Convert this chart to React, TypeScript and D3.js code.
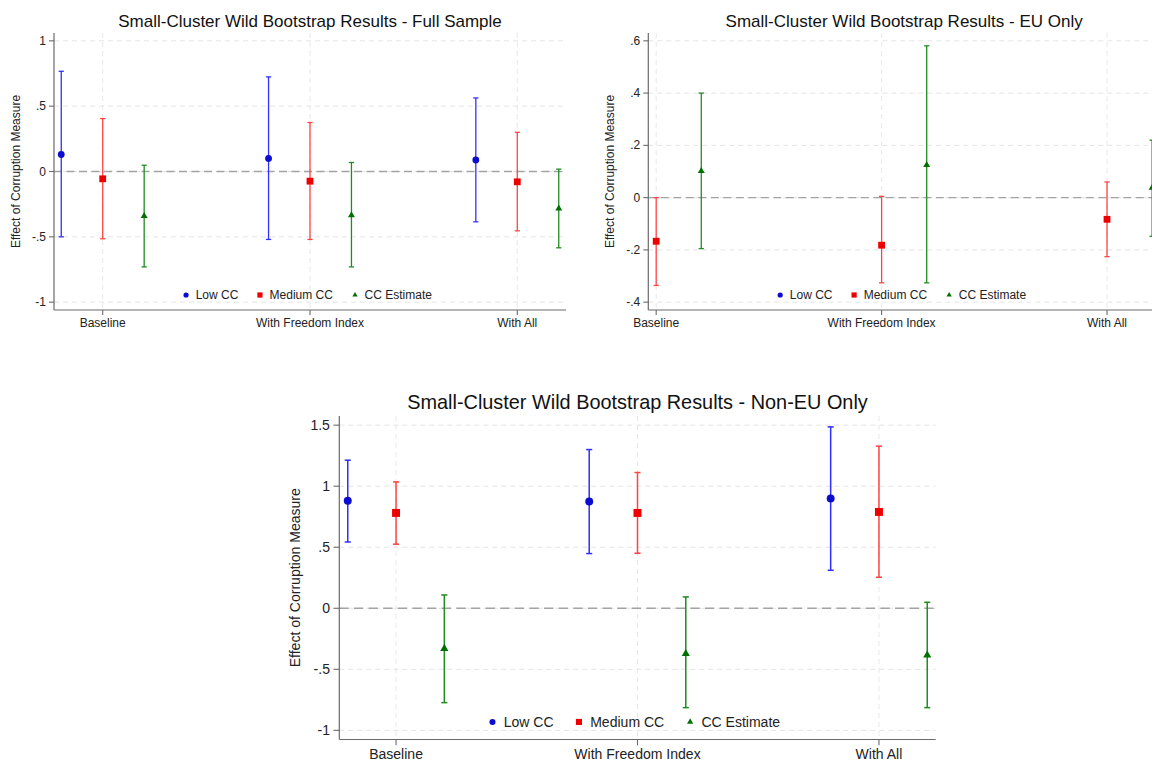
import React from "react";
import * as d3 from "d3";

const categories = ["Baseline", "With Freedom Index", "With All"];
const seriesNames = ["Low CC", "Medium CC", "CC Estimate"];

// Full sample
const fullLowEst = [0.13, 0.1, 0.088];
const fullLowLo = [-0.5, -0.52, -0.385];
const fullLowHi = [0.767, 0.724, 0.563];
const fullMedEst = [-0.056, -0.074, -0.079];
const fullMedLo = [-0.515, -0.52, -0.454];
const fullMedHi = [0.405, 0.375, 0.3];
const fullCcEst = [-0.34, -0.334, -0.283];
const fullCcLo = [-0.73, -0.73, -0.584];
const fullCcHi = [0.048, 0.069, 0.018];
const fullTicks = [-1, -0.5, 0, 0.5, 1];
const fullTickLabels = ["-1", "-.5", "0", ".5", "1"];

// EU only (no Low CC estimates)
const euMedEst = [-0.167, -0.182, -0.083];
const euMedLo = [-0.336, -0.326, -0.226];
const euMedHi = [0.0, 0.005, 0.06];
const euCcEst = [0.102, 0.125, 0.038];
const euCcLo = [-0.195, -0.326, -0.148];
const euCcHi = [0.4, 0.581, 0.22];
const euTicks = [-0.4, -0.2, 0, 0.2, 0.4, 0.6];
const euTickLabels = ["-.4", "-.2", "0", ".2", ".4", ".6"];

// Non-EU only
const nonLowEst = [0.88, 0.875, 0.899];
const nonLowLo = [0.543, 0.448, 0.311];
const nonLowHi = [1.213, 1.3, 1.486];
const nonMedEst = [0.781, 0.781, 0.789];
const nonMedLo = [0.525, 0.451, 0.254];
const nonMedHi = [1.035, 1.112, 1.328];
const nonCcEst = [-0.33, -0.372, -0.385];
const nonCcLo = [-0.773, -0.814, -0.814];
const nonCcHi = [0.109, 0.093, 0.049];
const nonTicks = [-1, -0.5, 0, 0.5, 1, 1.5];
const nonTickLabels = ["-1", "-.5", "0", ".5", "1", "1.5"];

const FONT = '"Liberation Sans", Arial, Helvetica, sans-serif';
const lineColors = ["#3030ff", "#ff4444", "#228b22"];
const markColors = ["#0c0cd0", "#ee0000", "#007000"];
const offsets = [-0.2, 0, 0.2];

type Series = { est: number[]; lo: number[]; hi: number[] } | null;

type PanelProps = {
  title: string;
  ticks: number[];
  tickLabels: string[];
  series: Series[];
  box: { left: number; right: number; top: number; bottom: number };
  k: number;
};

const Marker = ({ i, cx, cy, s }: { i: number; cx: number; cy: number; s: number }) => {
  if (i === 0) return <circle cx={cx} cy={cy} r={s * 0.5} fill={markColors[0]} />;
  if (i === 1)
    return <rect x={cx - s * 0.5} y={cy - s * 0.5} width={s} height={s} fill={markColors[1]} />;
  const tri = d3.symbol(d3.symbolTriangle, s * s * 0.45)();
  return <path d={tri || ""} transform={`translate(${cx},${cy})`} fill={markColors[2]} />;
};

const Panel = ({ title, ticks, tickLabels, series, box, k }: PanelProps) => {
  const xs = series.flatMap((s, si) =>
    s ? categories.map((_, ci) => ci + 1 + offsets[si]) : []
  );
  const x = d3
    .scaleLinear()
    .domain([(d3.min(xs) as number) - 0.035, (d3.max(xs) as number) + 0.035])
    .range([box.left, box.right]);
  const [t0, t1] = d3.extent(ticks) as [number, number];
  const pad = (t1 - t0) * 0.03;
  const y = d3.scaleLinear().domain([t0 - pad, t1 + pad]).range([box.bottom, box.top]);

  const fs = 12 * k;
  const cx = (box.left + box.right) / 2;
  const cy = (box.top + box.bottom) / 2;
  const legendOffsets = [-10.33, -4.17, 3.75];
  const legendY = box.bottom - 15 * k;
  const cap = 2.6 * k;

  return (
    <g fontFamily={FONT}>
      {/* grid */}
      {ticks.map((t) => (
        <line
          key={"gy" + t}
          x1={box.left}
          x2={box.right}
          y1={y(t)}
          y2={y(t)}
          stroke="#e4e4e4"
          strokeWidth={1}
          strokeDasharray="5,4"
        />
      ))}
      {categories.map((c, ci) => (
        <line
          key={"gx" + c}
          x1={x(ci + 1)}
          x2={x(ci + 1)}
          y1={box.top}
          y2={box.bottom}
          stroke="#e8e8e8"
          strokeWidth={1}
          strokeDasharray="5,4"
        />
      ))}
      {/* zero line */}
      <line
        x1={box.left}
        x2={box.right}
        y1={y(0)}
        y2={y(0)}
        stroke="#a3a3a3"
        strokeWidth={1.3 * k}
        strokeDasharray={`${8 * k},${4.5 * k}`}
      />
      {/* error bars */}
      {series.map((s, si) =>
        s
          ? categories.map((_, ci) => {
              const px = x(ci + 1 + offsets[si]);
              return (
                <g key={`e${si}-${ci}`} stroke={lineColors[si]} strokeWidth={1.3 * k}>
                  <line x1={px} x2={px} y1={y(s.lo[ci])} y2={y(s.hi[ci])} />
                  <line x1={px - cap} x2={px + cap} y1={y(s.lo[ci])} y2={y(s.lo[ci])} />
                  <line x1={px - cap} x2={px + cap} y1={y(s.hi[ci])} y2={y(s.hi[ci])} />
                </g>
              );
            })
          : null
      )}
      {series.map((s, si) =>
        s
          ? categories.map((_, ci) => (
              <Marker
                key={`m${si}-${ci}`}
                i={si}
                cx={x(ci + 1 + offsets[si])}
                cy={y(s.est[ci])}
                s={6.8 * k}
              />
            ))
          : null
      )}
      {/* axes */}
      <line x1={box.left} x2={box.left} y1={box.top} y2={box.bottom} stroke="#6a6a6a" strokeWidth={1.2} />
      <line x1={box.left} x2={box.right} y1={box.bottom} y2={box.bottom} stroke="#6a6a6a" strokeWidth={1.2} />
      {ticks.map((t, i) => (
        <g key={"yt" + t}>
          <line x1={box.left - 5 * k} x2={box.left} y1={y(t)} y2={y(t)} stroke="#6a6a6a" strokeWidth={1.1} />
          <text
            x={box.left - 8 * k}
            y={y(t)}
            textAnchor="end"
            dominantBaseline="central"
            fontSize={fs}
            fill="#222"
          >
            {tickLabels[i]}
          </text>
        </g>
      ))}
      {categories.map((c, ci) => (
        <g key={"xt" + c}>
          <line
            x1={x(ci + 1)}
            x2={x(ci + 1)}
            y1={box.bottom}
            y2={box.bottom + 5 * k}
            stroke="#6a6a6a"
            strokeWidth={1.1}
          />
          <text x={x(ci + 1)} y={box.bottom + 16.5 * k} textAnchor="middle" fontSize={fs} fill="#222">
            {c}
          </text>
        </g>
      ))}
      <text
        transform={`translate(${box.left - 38 * k},${cy}) rotate(-90)`}
        textAnchor="middle"
        dominantBaseline="central"
        fontSize={fs}
        fill="#222"
      >
        Effect of Corruption Measure
      </text>
      <text x={cx} y={box.top - 6 * k} textAnchor="middle" fontSize={17 * k} fill="#111">
        {title}
      </text>
      {/* legend */}
      {seriesNames.map((n, si) => {
        const mx = cx + legendOffsets[si] * fs;
        return (
          <g key={"lg" + n}>
            <Marker i={si} cx={mx} cy={legendY} s={5.2 * k} />
            <text x={mx + 0.8 * fs} y={legendY} dominantBaseline="central" fontSize={fs} fill="#222">
              {n}
            </text>
          </g>
        );
      })}
    </g>
  );
};

export default function App() {
  return (
    <svg
      width={1152}
      height={761}
      style={{ position: "absolute", left: 0, top: 0, background: "#fff" }}
    >
      <rect width={1152} height={761} fill="#fff" />
      <Panel
        title="Small-Cluster Wild Bootstrap Results - Full Sample"
        ticks={fullTicks}
        tickLabels={fullTickLabels}
        series={[
          { est: fullLowEst, lo: fullLowLo, hi: fullLowHi },
          { est: fullMedEst, lo: fullMedLo, hi: fullMedHi },
          { est: fullCcEst, lo: fullCcLo, hi: fullCcHi },
        ]}
        box={{ left: 54, right: 566, top: 33, bottom: 310 }}
        k={1}
      />
      <Panel
        title="Small-Cluster Wild Bootstrap Results - EU Only"
        ticks={euTicks}
        tickLabels={euTickLabels}
        series={[
          null,
          { est: euMedEst, lo: euMedLo, hi: euMedHi },
          { est: euCcEst, lo: euCcLo, hi: euCcHi },
        ]}
        box={{ left: 648.3, right: 1160, top: 33, bottom: 310 }}
        k={1}
      />
      <Panel
        title="Small-Cluster Wild Bootstrap Results - Non-EU Only"
        ticks={nonTicks}
        tickLabels={nonTickLabels}
        series={[
          { est: nonLowEst, lo: nonLowLo, hi: nonLowHi },
          { est: nonMedEst, lo: nonMedLo, hi: nonMedHi },
          { est: nonCcEst, lo: nonCcLo, hi: nonCcHi },
        ]}
        box={{ left: 339.3, right: 935.7, top: 416, bottom: 739.5 }}
        k={1.17}
      />
    </svg>
  );
}
